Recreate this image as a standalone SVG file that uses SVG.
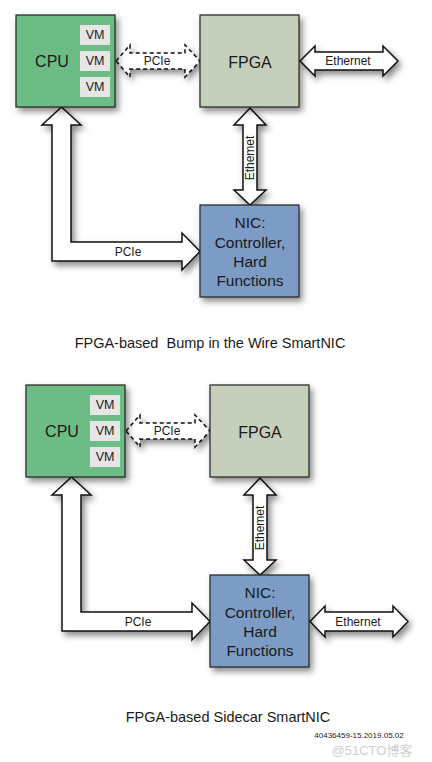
<svg xmlns="http://www.w3.org/2000/svg" width="432" height="762" viewBox="0 0 432 762">
<defs>
<filter id="sh" x="-20%" y="-20%" width="150%" height="150%">
<feDropShadow dx="3" dy="4" stdDeviation="3" flood-color="#000" flood-opacity="0.45"/>
</filter>
<style>
.box{stroke:#222;stroke-width:1.2;filter:url(#sh)}
.cpu{fill:#6cbd85}
.fpga{fill:#c5cfbc}
.nic{fill:#7b9cc5}
.vm{fill:#e6e6e6}
.arr{fill:#fff;stroke:#111;stroke-width:1.5;stroke-linejoin:miter;filter:url(#sh)}
.dash{stroke-dasharray:4 3}
text{font-family:"Liberation Sans","Open Sans",sans-serif;fill:#1a1a1a;text-anchor:middle;dominant-baseline:central}
.big{font-size:16px}
.vmt{font-size:12.5px}
.lbl{font-size:12px}
.nt{font-size:15.5px}
.cap{font-size:14.5px}
</style>
</defs>
<rect width="432" height="762" fill="#fff"/>
<g id="connectors">
<path class="arr dash" d="M116,61 L130,45 L130,53 L185,53 L185,45 L200,61 L185,77 L185,69 L130,69 L130,77 Z"/>
<path class="arr" d="M300,61 L315,46 L315,52 L383,52 L383,46 L398,61 L383,76 L383,70 L315,70 L315,76 Z"/>
<path class="arr" d="M250,108 L266,125 L257,125 L257,190 L266,190 L250,205 L234,190 L243,190 L243,125 L234,125 Z"/>
<path class="arr" d="M61.5,107 L81,125 L71,125 L71,242 L182,242 L182,233 L200,251.5 L182,270 L182,261 L52,261 L52,125 L42,125 Z"/>
<text class="lbl" x="157" y="61">PCIe</text>
<text class="lbl" x="348" y="61">Ethernet</text>
<text class="lbl" transform="translate(250,158) rotate(-90)">Ethemet</text>
<text class="lbl" x="128" y="251.5">PCIe</text>
<path class="arr dash" d="M126,431 L140,415 L140,423 L195,423 L195,415 L210,431 L195,447 L195,439 L140,439 L140,447 Z"/>
<path class="arr" d="M260,478 L276,495 L267,495 L267,560 L276,560 L260,575 L244,560 L253,560 L253,495 L244,495 Z"/>
<path class="arr" d="M71.5,477 L91,495 L81,495 L81,612 L192,612 L192,603 L210,621.5 L192,640 L192,631 L62,631 L62,495 L52,495 Z"/>
<path class="arr" d="M310,621.5 L325,606 L325,612 L393,612 L393,606 L408,621.5 L393,637 L393,631 L325,631 L325,637 Z"/>
<text class="lbl" x="167" y="431">PCIe</text>
<text class="lbl" transform="translate(260,528) rotate(-90)">Ethemet</text>
<text class="lbl" x="138" y="621.5">PCIe</text>
<text class="lbl" x="358" y="621.5">Ethernet</text>
</g>
<g id="cpu1">
<rect class="box cpu" x="16" y="15" width="99" height="92"/>
<text class="big" x="52" y="61">CPU</text>
<rect class="vm" x="80" y="25" width="30" height="20"/>
<rect class="vm" x="80" y="51" width="30" height="20"/>
<rect class="vm" x="80" y="77" width="30" height="20"/>
<text class="vmt" x="95" y="35">VM</text>
<text class="vmt" x="95" y="61">VM</text>
<text class="vmt" x="95" y="87">VM</text>
</g>
<g id="fpga1">
<rect class="box fpga" x="200" y="15" width="99" height="92"/>
<text class="big" x="250" y="62">FPGA</text>
</g>
<g id="nic1">
<rect class="box nic" x="200" y="205" width="99" height="92"/>
<text class="nt" x="250" y="222">NIC:</text>
<text class="nt" x="250" y="242">Controller,</text>
<text class="nt" x="250" y="261">Hard</text>
<text class="nt" x="250" y="280">Functions</text>
</g>
<text class="cap" x="210" y="343" xml:space="preserve">FPGA-based  Bump in the Wire SmartNIC</text>
<g id="cpu2">
<rect class="box cpu" x="26" y="385" width="99" height="92"/>
<text class="big" x="62" y="431">CPU</text>
<rect class="vm" x="90" y="395" width="30" height="20"/>
<rect class="vm" x="90" y="421" width="30" height="20"/>
<rect class="vm" x="90" y="447" width="30" height="20"/>
<text class="vmt" x="105" y="405">VM</text>
<text class="vmt" x="105" y="431">VM</text>
<text class="vmt" x="105" y="457">VM</text>
</g>
<g id="fpga2">
<rect class="box fpga" x="210" y="385" width="99" height="92"/>
<text class="big" x="260" y="432">FPGA</text>
</g>
<g id="nic2">
<rect class="box nic" x="210" y="575" width="99" height="92"/>
<text class="nt" x="260" y="592">NIC:</text>
<text class="nt" x="260" y="612">Controller,</text>
<text class="nt" x="260" y="631">Hard</text>
<text class="nt" x="260" y="650">Functions</text>
</g>
<text class="cap" x="228" y="717">FPGA-based Sidecar SmartNIC</text>
<text x="359" y="735" style="font-size:8px">40436459-15.2019.05.02</text>
<text x="372" y="750" style="font-size:13px;fill:#cfcfcf;font-family:'Liberation Sans','Noto Sans CJK SC',sans-serif">@51CTO博客</text>
</svg>
